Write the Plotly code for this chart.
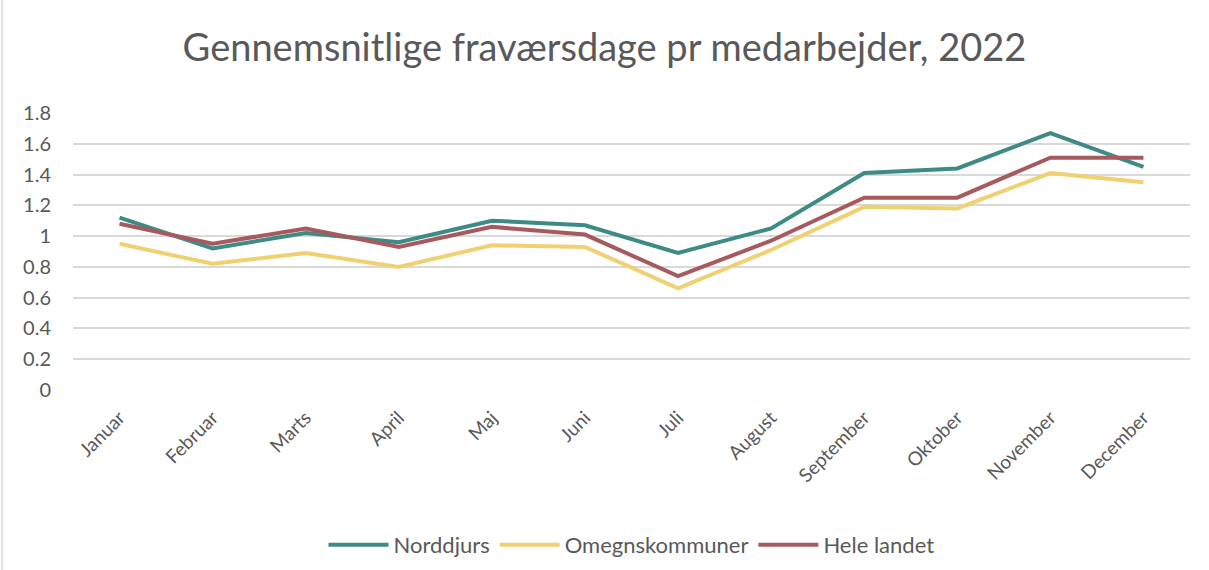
import plotly.graph_objects as go

months = ["Januar", "Februar", "Marts", "April", "Maj", "Juni", "Juli",
          "August", "September", "Oktober", "November", "December"]
norddjurs = [1.12, 0.92, 1.02, 0.96, 1.10, 1.07, 0.89, 1.05, 1.41, 1.44, 1.67, 1.45]
omegn = [0.95, 0.82, 0.89, 0.80, 0.94, 0.93, 0.66, 0.91, 1.19, 1.18, 1.41, 1.35]
hele = [1.08, 0.95, 1.05, 0.93, 1.06, 1.01, 0.74, 0.97, 1.25, 1.25, 1.51, 1.51]
yticks = [0, 0.2, 0.4, 0.6, 0.8, 1, 1.2, 1.4, 1.6, 1.8]
ytick_text = ["0", "0.2", "0.4", "0.6", "0.8", "1", "1.2", "1.4", "1.6", "1.8"]

font_family = "Lato, 'Open Sans', sans-serif"
grey = "#595959"

L, R, T, B = 73, 19, 113, 180
W, H = 1209, 570
pw, ph = W - L - R, H - T - B

fig = go.Figure()
for name, vals, col in [("Norddjurs", norddjurs, "#3E8A84"),
                        ("Omegnskommuner", omegn, "#EFD172"),
                        ("Hele landet", hele, "#A65A5E")]:
    fig.add_trace(go.Scatter(x=months, y=vals, name=name, mode="lines",
                             line=dict(color=col, width=4)))

fig.update_layout(
    width=W, height=H,
    paper_bgcolor="white", plot_bgcolor="white",
    margin=dict(l=L, r=R, t=T, b=B, autoexpand=False),
    title=dict(text="Gennemsnitlige fraværsdage pr medarbejder, 2022",
               x=0.5, xanchor="center", y=1 - 48 / H, yanchor="middle",
               font=dict(family=font_family, size=38, color=grey)),
    font=dict(family=font_family, color=grey),
    legend=dict(orientation="h", x=0.5, xanchor="center",
                yref="container", y=1 - 545 / H, yanchor="middle",
                font=dict(size=22, color=grey), itemwidth=60),
    showlegend=True,
)
fig.update_xaxes(showgrid=False, showline=False, tickangle=-45,
                 tickfont=dict(size=19, color=grey), ticks="",
                 ticklabelstandoff=12,
                 range=[-0.5, 11.5], automargin=False)
fig.update_yaxes(range=[0, 1.8], tickvals=yticks, ticktext=ytick_text,
                 showgrid=True, gridcolor="#D9D9D9", gridwidth=1.5,
                 zeroline=False, showline=False, ticks="",
                 ticklabelstandoff=21, automargin=False,
                 tickfont=dict(size=20, color=grey))

fig.add_shape(type="line", xref="paper", yref="paper",
              x0=-(L - 2) / pw, x1=-(L - 2) / pw,
              y0=-B / ph, y1=(H - T) / ph,
              line=dict(color="#D9D9D9", width=1.5))

fig.write_html("out.html",
               config={"displayModeBar": False},
               post_script="document.body.style.margin='0';")
